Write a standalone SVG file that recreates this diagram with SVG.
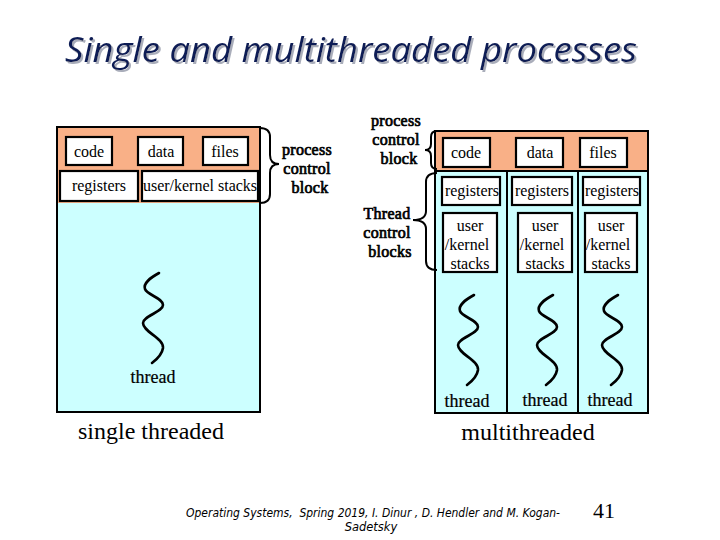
<svg xmlns="http://www.w3.org/2000/svg" width="720" height="540" viewBox="0 0 720 540">
<style>
.bg{fill:#ffffff}
.pcb{fill:#F9B087;stroke:none}
.area{fill:#CCFFFF;stroke:#000;stroke-width:2}
.box{fill:#ffffff;stroke:#000;stroke-width:2.2}
.line{stroke:#000;stroke-width:2;fill:none}
.brace{stroke:#000;stroke-width:2;fill:none}
.lbl{font-family:"Liberation Serif","Times New Roman",serif;font-size:16px;fill:#000;text-anchor:middle}
.blbl{font-family:"Liberation Serif","Times New Roman",serif;font-size:16px;fill:#000;stroke:#000;stroke-width:0.7;text-anchor:middle;letter-spacing:0.3px}
.thr{font-family:"Liberation Serif","Times New Roman",serif;font-size:18px;fill:#000;stroke:#000;stroke-width:0.2;text-anchor:middle}
.cap{font-family:"Liberation Serif","Times New Roman",serif;font-size:24px;fill:#000;text-anchor:middle}
.title{font-family:"Open Sans","Noto Sans",sans-serif;font-style:italic;font-size:34px;fill:#0F1E55}
.foot{font-family:"DejaVu Sans","Liberation Sans",sans-serif;font-style:italic;font-size:11.5px;fill:#000}
.num{font-family:"Liberation Serif","Times New Roman",serif;font-size:22px;fill:#000}
</style>
<defs>
<path id="sq" d="M16,1 C7,6 0,11 2,17 C4,23 20,26 20,33 C20,40 0,44 0,51 C0,60 21,66 20,76 C19,83 13,88 9,91" fill="none" stroke="#000" stroke-width="2.6" stroke-linecap="round"/>
<filter id="shadow" x="-5%" y="-20%" width="110%" height="150%">
<feOffset in="SourceAlpha" dx="2" dy="2" result="off"/>
<feFlood flood-color="#A9ADBA" result="col"/>
<feComposite in="col" in2="off" operator="in" result="sh"/>
<feMerge><feMergeNode in="sh"/><feMergeNode in="SourceGraphic"/></feMerge>
</filter>
</defs>
<rect class="bg" x="0" y="0" width="720" height="540"/>

<g id="title">
<text class="title" x="65" y="62" textLength="572" lengthAdjust="spacingAndGlyphs" filter="url(#shadow)">Single and multithreaded processes</text>
</g>

<g id="single-process">
<rect class="area" x="57" y="127" width="203" height="285"/>
<rect class="pcb" x="58" y="128" width="201" height="75"/>
<line class="line" x1="57" y1="127" x2="260" y2="127"/>
<line class="line" x1="57" y1="127" x2="57" y2="412"/>
<line class="line" x1="260" y1="127" x2="260" y2="412"/>
</g>
<g id="s-code"><rect class="box" x="66" y="137" width="46" height="28"/><text class="lbl" x="89" y="157">code</text></g>
<g id="s-data"><rect class="box" x="138" y="137" width="45" height="28"/><text class="lbl" x="161" y="157">data</text></g>
<g id="s-files"><rect class="box" x="203" y="137" width="45" height="28"/><text class="lbl" x="225" y="157">files</text></g>
<g id="s-registers"><rect class="box" x="60" y="171" width="78" height="30"/><text class="lbl" x="99" y="191">registers</text></g>
<g id="s-stacks"><rect class="box" x="142" y="171" width="116" height="30"/><text class="lbl" x="200" y="191">user/kernel stacks</text></g>
<g id="s-thread"><use href="#sq" x="143" y="272"/><text class="thr" x="153" y="383">thread</text></g>
<g id="s-caption"><text class="cap" x="151" y="439">single threaded</text></g>
<g id="s-pcb-label">
<path class="brace" d="M260,128 Q270,128 270,137 L270,155 Q270,164 279,164 Q270,164 270,173 L270,194 Q270,203 260,203"/>
<text class="blbl" x="307" y="155">process</text>
<text class="blbl" x="307" y="174">control</text>
<text class="blbl" x="310" y="193">block</text>
</g>

<g id="multi-process">
<rect class="area" x="435" y="131" width="213" height="282"/>
<rect class="pcb" x="436" y="132" width="211" height="39"/>
<line class="line" x1="435" y1="171" x2="648" y2="171"/>
<line class="line" x1="507" y1="171" x2="507" y2="413"/>
<line class="line" x1="578" y1="171" x2="578" y2="413"/>
<line class="line" x1="435" y1="131" x2="648" y2="131"/>
</g>
<g id="m-code"><rect class="box" x="443" y="138" width="47" height="29"/><text class="lbl" x="466" y="158">code</text></g>
<g id="m-data"><rect class="box" x="516" y="138" width="47" height="29"/><text class="lbl" x="540" y="158">data</text></g>
<g id="m-files"><rect class="box" x="580" y="138" width="47" height="29"/><text class="lbl" x="603" y="158">files</text></g>
<g id="m-registers1"><rect class="box" x="442" y="177" width="58" height="28"/><text class="lbl" x="472" y="196">registers</text></g>
<g id="m-registers2"><rect class="box" x="512" y="177" width="60" height="28"/><text class="lbl" x="542" y="196">registers</text></g>
<g id="m-registers3"><rect class="box" x="583" y="177" width="57" height="28"/><text class="lbl" x="612" y="196">registers</text></g>
<g id="m-stacks1"><rect class="box" x="443" y="213" width="54" height="59"/><text class="lbl" x="470" y="231">user</text><text class="lbl" x="467" y="250">/kernel</text><text class="lbl" x="470" y="269">stacks</text></g>
<g id="m-stacks2"><rect class="box" x="518" y="213" width="54" height="59"/><text class="lbl" x="545" y="231">user</text><text class="lbl" x="542" y="250">/kernel</text><text class="lbl" x="545" y="269">stacks</text></g>
<g id="m-stacks3"><rect class="box" x="585" y="213" width="52" height="59"/><text class="lbl" x="611" y="231">user</text><text class="lbl" x="608" y="250">/kernel</text><text class="lbl" x="611" y="269">stacks</text></g>
<g id="m-thread1"><use href="#sq" x="458" y="294"/><text class="thr" x="467" y="407">thread</text></g>
<g id="m-thread2"><use href="#sq" x="537" y="294"/><text class="thr" x="545" y="406">thread</text></g>
<g id="m-thread3"><use href="#sq" x="602" y="294"/><text class="thr" x="610" y="406">thread</text></g>
<g id="m-caption"><text class="cap" x="528" y="440">multithreaded</text></g>
<g id="m-pcb-label">
<path class="brace" d="M437,131 Q431,131 431,137 L431,144 Q431,150 425,150 Q431,150 431,156 L431,163 Q431,169 437,169"/>
<text class="blbl" x="396" y="126">process</text>
<text class="blbl" x="396" y="145">control</text>
<text class="blbl" x="399" y="164">block</text>
</g>
<g id="m-tcb-label">
<path class="brace" d="M437,173 Q426,173 426,182 L426,211 Q426,220 413,220 Q426,220 426,229 L426,261 Q426,270 437,270"/>
<text class="blbl" x="387" y="219">Thread</text>
<text class="blbl" x="387" y="238">control</text>
<text class="blbl" x="390" y="257">blocks</text>
</g>

<g id="footer">
<text class="foot" x="186" y="517" textLength="374" lengthAdjust="spacingAndGlyphs" xml:space="preserve">Operating Systems,  Spring 2019, I. Dinur , D. Hendler and M. Kogan-</text>
<text class="foot" x="371" y="531" text-anchor="middle">Sadetsky</text>
<text class="num" x="593" y="518">41</text>
</g>
</svg>
